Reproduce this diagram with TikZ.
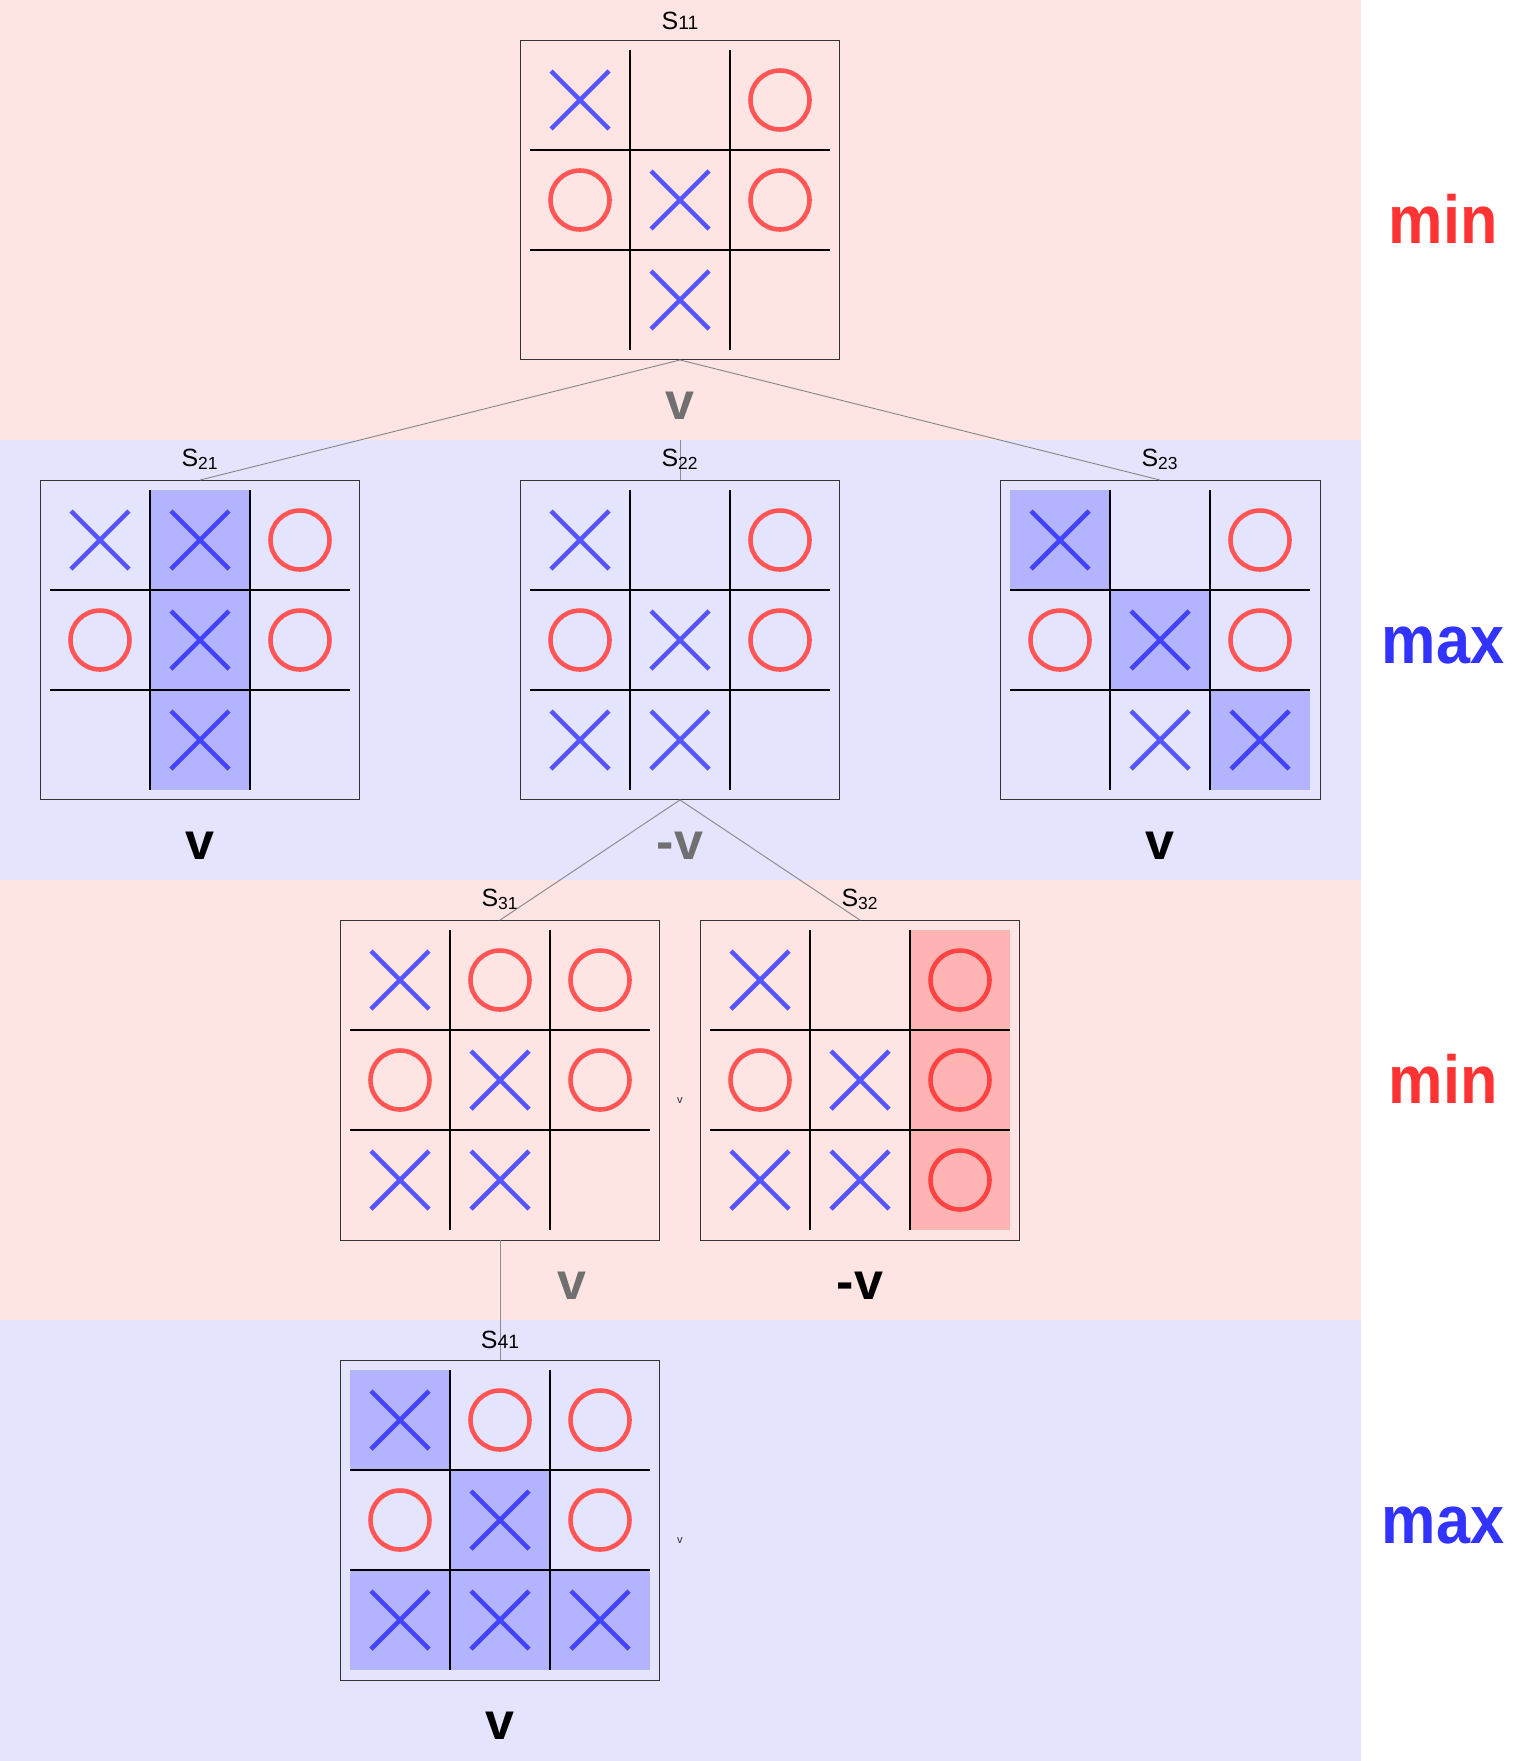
\documentclass[tikz,border=0pt]{standalone}
\usepackage{fontspec}
\setmainfont{Liberation Sans}
\newfontfamily\tagfont{Liberation Sans}[FakeStretch=0.9]
\usepackage{xcolor}
\usepackage{tikz}
\usetikzlibrary{positioning,calc}
\definecolor{minband}{HTML}{FFE4E4}
\definecolor{maxband}{HTML}{E4E4FF}
\definecolor{xblue}{HTML}{5555FF}
\definecolor{ored}{HTML}{FF5555}
\definecolor{minred}{HTML}{FF3333}
\definecolor{maxblue}{HTML}{3333FF}
\definecolor{boardframe}{HTML}{333333}
\definecolor{backedgray}{HTML}{707070}
\definecolor{linkgray}{HTML}{8C8C8C}

% board: [highlight style]{name}{centre}{nine cells row by row}{highlighted cells}
\newcommand{\tttboard}[5][hlx]{%
  \node[board] (#2) at (#3) {};
  \foreach \m [count=\k from 0] in {#4} {
    \pgfmathtruncatemacro{\brow}{floor(\k/3)}
    \pgfmathtruncatemacro{\bcol}{\k-3*\brow}
    \if\m x\draw[xmark] ($(#2)+(100*\bcol-100,100-100*\brow)$) +(-29,-29) -- +(29,29) +(-29,29) -- +(29,-29);\fi
    \if\m o\draw[omark] ($(#2)+(100*\bcol-100,100-100*\brow)$) circle[radius=0.59cm];\fi
  }
  \foreach \h in {#5} {
    \ifx\h\empty\else
      \pgfmathtruncatemacro{\brow}{floor(\h/3)}
      \pgfmathtruncatemacro{\bcol}{\h-3*\brow}
      \fill[#1] ($(#2)+(100*\bcol-150,150-100*\brow)$) rectangle ++(100,-100);
    \fi
  }
  \foreach \d in {-50,50} {
    \draw[gridline] ($(#2)+(\d,-150)$) -- ++(0,300);
    \draw[gridline] ($(#2)+(-150,\d)$) -- ++(300,0);
  }
}

\begin{document}
\begin{tikzpicture}[x=0.02cm,y=0.02cm]
    \tikzset{
      board/.style={draw=boardframe,line width=0.55pt,minimum size=6.4cm,inner sep=0pt,outer sep=0pt},
      xmark/.style={draw=xblue,line width=2.6pt},
      omark/.style={draw=ored,line width=2.6pt},
      gridline/.style={draw=black,line width=0.85pt},
      hlx/.style={fill=blue,fill opacity=0.21},
      hlo/.style={fill=red,fill opacity=0.21},
      link/.style={draw=linkgray,line width=0.55pt},
      stname/.style={anchor=base,inner sep=0pt,font=\fontsize{14.2pt}{16pt}\selectfont},
      leafval/.style={anchor=base,inner sep=0pt,font=\bfseries\fontsize{29.6pt}{34pt}\selectfont},
      backval/.style={leafval,text=backedgray},
      tinyval/.style={inner sep=0pt,text=black!85,font=\fontsize{6.3pt}{7pt}\selectfont},
      minlbl/.style={anchor=base,inner sep=0pt,text=minred,font=\tagfont\bfseries\fontsize{38.7pt}{44pt}\selectfont},
      maxlbl/.style={minlbl,text=maxblue}
    }
    \useasboundingbox (0,0) rectangle (1517,-1761);
    % level bands
    \fill[minband] (0,0) rectangle (1361,-440);
    \fill[maxband] (0,-440) rectangle (1361,-880);
    \fill[minband] (0,-880) rectangle (1361,-1320);
    \fill[maxband] (0,-1320) rectangle (1361,-1761);
    \node[minlbl] (lv1) at (1443,-243) {min};
    \node[maxlbl] (lv2) at (1443,-663) {max};
    \node[minlbl] (lv3) at (1443,-1103) {min};
    \node[maxlbl] (lv4) at (1443,-1543) {max};
    % boards
    \tttboard{s11}{680,-200}{x,e,o,o,x,o,e,x,e}{}
    \tttboard{s21}{200,-640}{x,x,o,o,x,o,e,x,e}{1,4,7}
    \tttboard{s22}{680,-640}{x,e,o,o,x,o,x,x,e}{}
    \tttboard{s23}{1160,-640}{x,e,o,o,x,o,e,x,x}{0,4,8}
    \tttboard{s31}{500,-1080}{x,o,o,o,x,o,x,x,e}{}
    \tttboard[hlo]{s32}{860,-1080}{x,e,o,o,x,o,x,x,o}{2,5,8}
    \tttboard{s41}{500,-1520}{x,o,o,o,x,o,x,x,x}{0,4,6,7,8}
    % tree links
    \coordinate (s22in) at (680,-440);
    \draw[link] (s11.south) -- (s21.north);
    \draw[link] (s11.south) -- (s23.north);
    \draw[link] (s22in) -- (s22.north);
    \draw[link] (s22.south) -- (s31.north);
    \draw[link] (s22.south) -- (s32.north);
    \draw[link] (s31.south) -- (s41.north);
    % state names
    \node[stname] (n11) at ($(s11.north)+(0,11)$) {S{\fontsize{11pt}{13pt}\selectfont 11}};
    \node[stname] (n21) at ($(s21.north)+(0,14)$) {S\textsubscript{21}};
    \node[stname] (n22) at ($(s22.north)+(0,14)$) {S\textsubscript{22}};
    \node[stname] (n23) at ($(s23.north)+(0,14)$) {S\textsubscript{23}};
    \node[stname] (n31) at ($(s31.north)+(0,14)$) {S\textsubscript{31}};
    \node[stname] (n32) at ($(s32.north)+(0,14)$) {S\textsubscript{32}};
    \node[stname] (n41) at ($(s41.north)+(0,12)$) {S{\fontsize{11pt}{13pt}\selectfont 41}};
    % values
    \node[backval] (v11) at ($(s11.south)+(0,-60)$) {v};
    \node[leafval] (v21) at ($(s21.south)+(0,-60)$) {v};
    \node[backval] (v22) at ($(s22.south)+(0,-60)$) {-v};
    \node[leafval] (v23) at ($(s23.south)+(0,-60)$) {v};
    \node[backval] (v31) at ($(s31.south)+(72,-60)$) {v};
    \node[leafval] (v32) at ($(s32.south)+(0,-60)$) {-v};
    \node[leafval] (v41) at ($(s41.south)+(0,-60)$) {v};
    \node[tinyval] (t31) at (680,-1101) {v};
    \node[tinyval] (t41) at (680,-1541) {v};
\end{tikzpicture}
\end{document}
